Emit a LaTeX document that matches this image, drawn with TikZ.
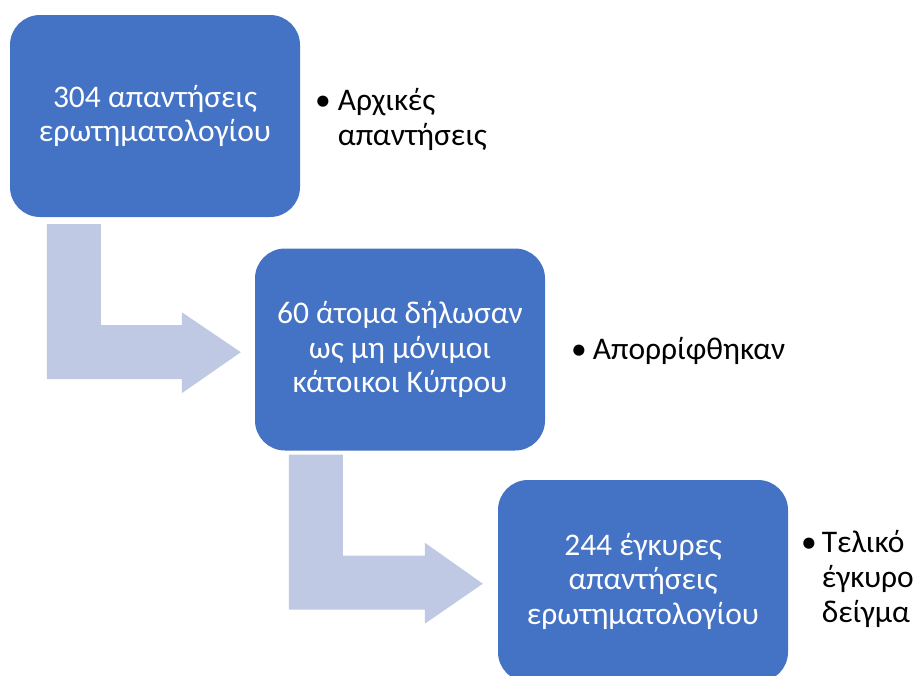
\documentclass[tikz,border=0pt]{standalone}
\usepackage{fontspec}
\setmainfont{Carlito}
\definecolor{boxblue}{RGB}{68,114,196}
\definecolor{arrowblue}{RGB}{192,201,227}
\begin{document}
\begin{tikzpicture}[x=1pt,y=-1pt,
  box/.style={rectangle, rounded corners=30pt, fill=boxblue, draw=none,
    minimum width=290pt, minimum height=202pt, inner sep=0pt,
    text=white, align=center, font=\fontsize{31.5}{34.5}\selectfont},
  bullettext/.style={anchor=north west, inner sep=0pt, align=left,
    font=\fontsize{31.5}{35}\selectfont},
  bentarrow/.style={fill=arrowblue, draw=none}]
\useasboundingbox (0,0) rectangle (917,675);
\node[box] (b1) at (155,116) {304 απαντήσεις\\ερωτηματολογίου};
\node[box] (b2) at (400,349.5) {60 άτομα δήλωσαν\\ως μη μόνιμοι\\κάτοικοι Κύπρου};
\node[box] (b3) at (643,581) {244 έγκυρες\\απαντήσεις\\ερωτηματολογίου};
\node[bullettext] (l1) at (315,86) {\begin{tabular}{@{}l@{\hspace{7pt}}l@{}}•&Αρχικές\\&απαντήσεις\end{tabular}};
\node[bullettext] (l2) at (571,335) {\begin{tabular}{@{}l@{\hspace{6pt}}l@{}}•&Απορρίφθηκαν\end{tabular}};
\node[bullettext] (l3) at (801,528) {\begin{tabular}{@{}l@{\hspace{5pt}}l@{}}•&Τελικό\\&έγκυρο\\&δείγμα\end{tabular}};
\fill[bentarrow, shift={(b1.south west)}]
  (37,7) -- (91,7) -- (91,108) -- (172,108) -- (172,95) -- (231,135)
  -- (172,176) -- (172,162) -- (37,162) -- cycle;
\fill[bentarrow, shift={(b2.south west)}]
  (34,4) -- (88,4) -- (88,105) -- (170,105) -- (170,92) -- (228,133)
  -- (170,173) -- (170,159) -- (34,159) -- cycle;
\end{tikzpicture}
\end{document}
